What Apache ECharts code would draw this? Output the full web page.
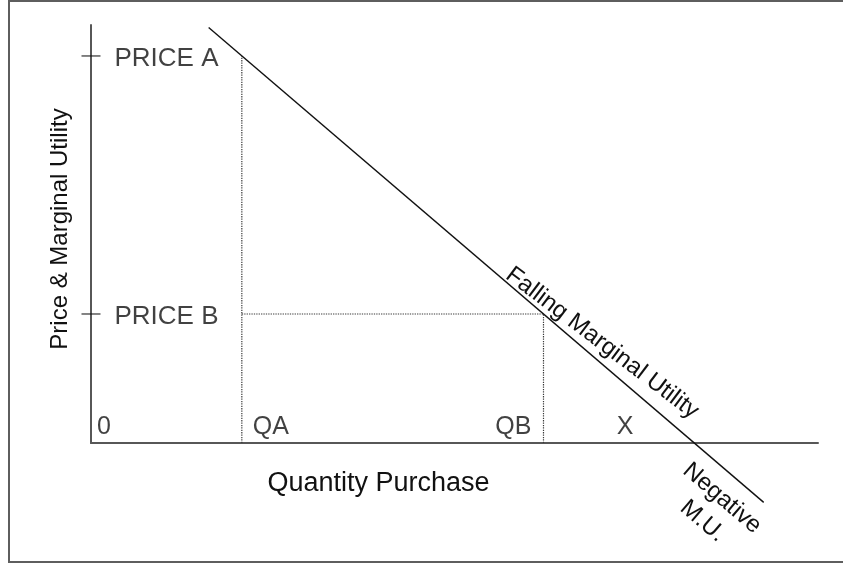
<!DOCTYPE html>
<html>
<head>
<meta charset="utf-8">
<script src="https://cdn.jsdelivr.net/npm/echarts@6/dist/echarts.min.js"></script>
<style>
  html, body { margin: 0; padding: 0; background: #fff; }
  #chart { width: 843px; height: 565px; }
</style>
</head>
<body>
<div id="chart"></div>
<script>
// Quantity axis marks: origin, QA, QB and the point where marginal utility reaches zero
const qtyTicks = ['0', 'QA', 'QB', 'X'];
const qtyValues = [0, 2.5, 7.5, 10];

// Price axis marks
const priceTicks = ['PRICE A', 'PRICE B'];
const priceValues = [7.5, 2.5];

// Falling marginal utility curve, end points
const muQuantity = [1.95, 11.15];
const muValue = [8.05, -1.15];

const FONT = 'Arial, "Liberation Sans", Helvetica, sans-serif';
const INK = '#111111';
const AXIS = '#575757';
const GUIDE = '#3a3a3a';

const chart = echarts.init(document.getElementById('chart'), null, { renderer: 'canvas' });

// marginal utility (used to anchor annotations)
function muAt(q) {
  const t = (q - muQuantity[0]) / (muQuantity[1] - muQuantity[0]);
  return muValue[0] + t * (muValue[1] - muValue[0]);
}

const qA = qtyValues[1], qB = qtyValues[2];
const pA = priceValues[0], pB = priceValues[1];

const guides = [
  [[qA, 0], [qA, pA]],
  [[qB, 0], [qB, pB]],
  [[qA, pB], [qB, pB]]
];

// label placement for the quantity marks, sitting just above the axis
const qtyLabelPlace = [
  { align: 'left', offset: [6, -3] },
  { align: 'left', offset: [11, -3] },
  { align: 'right', offset: [-12, -3] },
  { align: 'right', offset: [-61, -3] }
];

const guideSeries = guides.map(seg => ({
  type: 'line',
  data: seg,
  symbol: 'none',
  silent: true,
  z: 2,
  lineStyle: { color: GUIDE, width: 1.2, type: [1.3, 1.1] }
}));

chart.setOption({
  animation: false,
  backgroundColor: '#ffffff',
  grid: { left: 91, right: 25, top: 25, bottom: 122, containLabel: false },
  xAxis: {
    type: 'value',
    min: 0,
    max: 12.05,
    name: 'Quantity Purchase',
    nameLocation: 'middle',
    nameGap: 27,
    nameTextStyle: {
      fontFamily: FONT, fontSize: 27, color: INK,
      padding: [0, 152, 0, 0], verticalAlign: 'top'
    },
    axisLine: { onZero: false, lineStyle: { color: AXIS, width: 2 } },
    axisTick: { show: false },
    axisLabel: { show: false },
    splitLine: { show: false }
  },
  yAxis: {
    type: 'value',
    min: 0,
    max: 8.1,
    name: 'Price & Marginal Utility',
    nameLocation: 'middle',
    nameGap: 19,
    nameRotate: 90,
    nameTextStyle: { fontFamily: FONT, fontSize: 24, color: INK, padding: [0, 0, 0, 10] },
    axisLine: { show: true, lineStyle: { color: AXIS, width: 2 } },
    axisTick: { show: false },
    axisLabel: { show: false },
    splitLine: { show: false }
  },
  series: [
    ...guideSeries,
    {
      // falling marginal utility
      type: 'line',
      data: muQuantity.map((q, i) => [q, muValue[i]]),
      symbol: 'none',
      clip: false,
      silent: true,
      z: 3,
      lineStyle: { color: INK, width: 1.4 }
    },
    {
      // price ticks crossing the vertical axis, with their names
      type: 'scatter',
      data: priceValues.map(p => [0, p]),
      symbol: 'rect',
      symbolSize: [19, 1.3],
      silent: true,
      z: 4,
      itemStyle: { color: INK },
      label: {
        show: true,
        position: 'right',
        distance: 14,
        offset: [0, 3],
        fontFamily: FONT,
        fontSize: 26,
        color: INK,
        formatter: p => priceTicks[p.dataIndex]
      }
    },
    {
      // quantity names above the horizontal axis
      type: 'scatter',
      data: qtyValues.map((q, i) => ({
        value: [q, 0],
        label: {
          show: true,
          position: 'inside',
          verticalAlign: 'bottom',
          align: qtyLabelPlace[i].align,
          offset: qtyLabelPlace[i].offset,
          formatter: qtyTicks[i]
        }
      })),
      symbolSize: 0,
      silent: true,
      z: 4,
      label: { fontFamily: FONT, fontSize: 25, color: INK }
    }
  ]
});

// annotations that follow the slope of the curve
const a = chart.convertToPixel({ gridIndex: 0 }, [muQuantity[0], muValue[0]]);
const b = chart.convertToPixel({ gridIndex: 0 }, [muQuantity[1], muValue[1]]);
const ang = Math.atan2(b[1] - a[1], b[0] - a[0]);
const ux = Math.cos(ang), uy = Math.sin(ang);      // along the curve
const nx = Math.sin(ang), ny = -Math.cos(ang);     // normal, towards upper right

const fallAnchor = chart.convertToPixel({ gridIndex: 0 }, [8.3, muAt(8.3)]);
const zeroAnchor = chart.convertToPixel({ gridIndex: 0 }, [qtyValues[3], 0]);

chart.setOption({
  graphic: [
    {
      type: 'polyline',
      silent: true,
      shape: { points: [[843, 1], [9, 1], [9, 562], [843, 562]] },
      style: { stroke: '#5e5e5e', lineWidth: 2, fill: null }
    },
    {
      type: 'text',
      silent: true,
      x: fallAnchor[0] + nx * 16,
      y: fallAnchor[1] + ny * 16,
      rotation: -(ang - 0.06),
      style: {
        text: 'Falling Marginal Utility',
        fontFamily: FONT, fontSize: 24, fill: INK,
        align: 'center', verticalAlign: 'middle'
      }
    },
    {
      type: 'text',
      silent: true,
      x: zeroAnchor[0] + ux * 57 - nx * 39,
      y: zeroAnchor[1] + uy * 57 - ny * 39,
      rotation: -ang,
      style: {
        text: 'Negative\nM.U.',
        fontFamily: FONT, fontSize: 24, lineHeight: 30, fill: INK,
        align: 'center', verticalAlign: 'middle'
      }
    }
  ]
});
</script>
</body>
</html>
